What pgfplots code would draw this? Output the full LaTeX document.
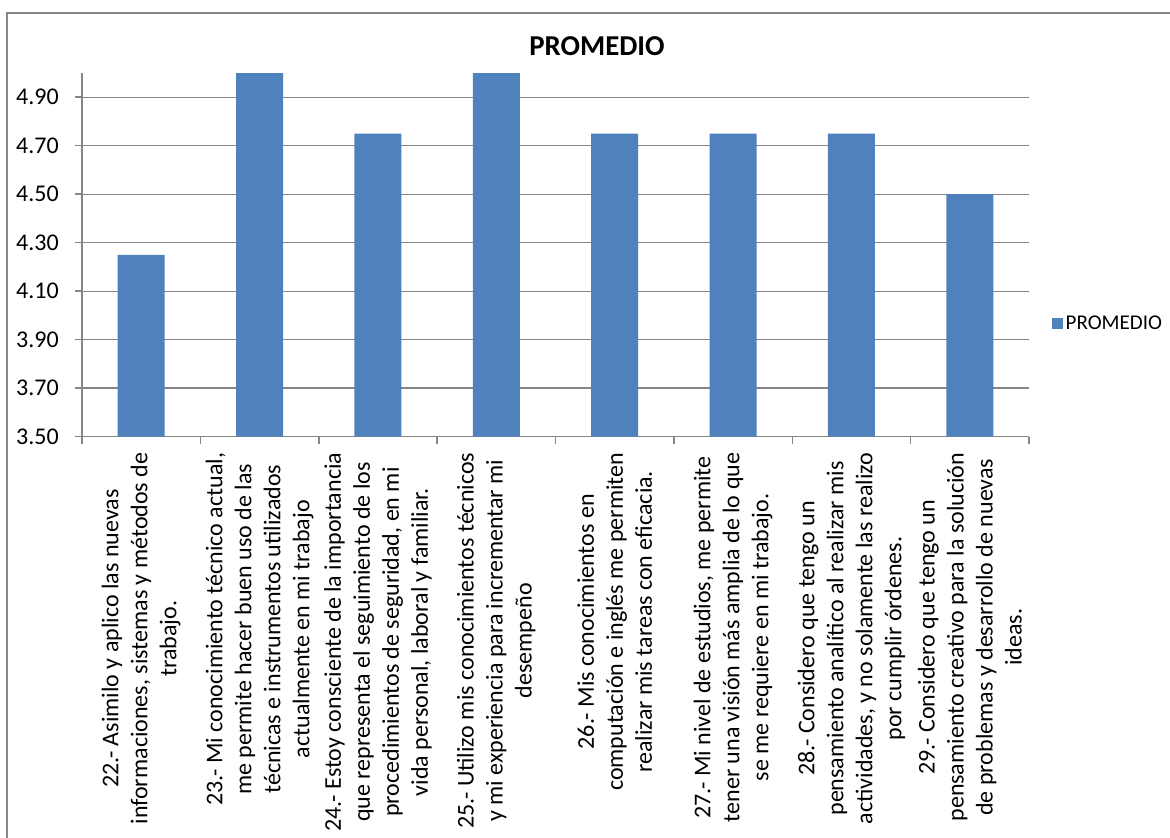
\documentclass[border=0pt]{standalone}
\usepackage{pgfplots}
\pgfplotsset{compat=1.18}
\usepackage{fontspec}
\setmainfont{Carlito}
\definecolor{barblue}{HTML}{4F81BD}
\definecolor{axgray}{HTML}{868686}
\begin{document}
\begin{tikzpicture}
\clip (0pt,-838pt) rectangle (1170pt,0pt);
\fill[white] (0pt,-838pt) rectangle (1170pt,0pt);
\draw[axgray, line width=1.5pt] (7pt,-900pt) -- (7pt,-13pt) -- (1200pt,-13pt);
\begin{axis}[
  at={(82pt,-436.5pt)}, anchor=south west,
  scale only axis, width=947pt, height=363.5pt,
  xmin=-0.5, xmax=7.5, ymin=3.5, ymax=5.0,
  ybar, bar width=47pt,
  axis lines=left,
  axis line style={-, draw=axgray, line width=1.5pt},
  tick align=outside,
  major tick length=0pt, minor tick length=7pt,
  tick style={draw=axgray, line width=1.5pt},
  xtick={0,1,2,3,4,5,6,7},
  minor xtick={-0.5,0.5,1.5,2.5,3.5,4.5,5.5,6.5,7.5},
  ytick={3.5,3.7,3.9,4.1,4.3,4.5,4.7,4.9},
  minor ytick={3.5,3.7,3.9,4.1,4.3,4.5,4.7,4.9},
  ymajorgrids,
  major grid style={draw=axgray, line width=1.2pt},
  yticklabel style={font=\fontsize{24}{29}\selectfont, inner sep=0pt,
    /pgf/number format/.cd, fixed, fixed zerofill, precision=2, assume math mode=true},
  yticklabel shift=23pt,
  xticklabel style={font=\fontsize{24}{29}\selectfont, rotate=90, anchor=east, align=center, inner sep=0pt},
  xticklabel shift=16pt,
  xticklabels={
    {22.- Asimilo y aplico las nuevas\\informaciones, sistemas y métodos de\\trabajo.},
    {23.- Mi conocimiento técnico actual,\\me permite hacer buen uso de las\\técnicas e instrumentos utilizados\\actualmente en mi trabajo},
    {24.- Estoy consciente de la importancia\\que representa el seguimiento de los\\procedimientos de seguridad, en mi\\vida personal, laboral y familiar.},
    {25.- Utilizo mis conocimientos técnicos\\y mi experiencia para incrementar mi\\desempeño},
    {26.- Mis conocimientos en\\computación e inglés me permiten\\realizar mis tareas con eficacia.},
    {27.- Mi nivel de estudios, me permite\\tener una visión más amplia de lo que\\se me requiere en mi trabajo.},
    {28.- Considero que tengo un\\pensamiento analítico al realizar mis\\actividades, y no solamente las realizo\\por cumplir órdenes.},
    {29.- Considero que tengo un\\pensamiento creativo para la solución\\de problemas y desarrollo de nuevas\\ideas.}
  },
  title={PROMEDIO},
  title style={font=\bfseries\fontsize{28.8}{34}\selectfont, at={(0.5438,1.0578)}, anchor=center, inner sep=0pt},
  legend style={draw=none, fill=none, at={(1.0243,0.3122)}, anchor=west, inner sep=0pt,
    font=\fontsize{21}{25}\selectfont, nodes={inner sep=2.5pt}},
  legend image code/.code={\fill[barblue] (0pt,-5.5pt) rectangle (11pt,5.5pt);},
]
\addplot[fill=barblue, draw=none] coordinates {(0,4.25)(1,5.0)(2,4.75)(3,5.0)(4,4.75)(5,4.75)(6,4.75)(7,4.5)};
\addlegendentry{PROMEDIO}
\end{axis}
\end{tikzpicture}
\end{document}
